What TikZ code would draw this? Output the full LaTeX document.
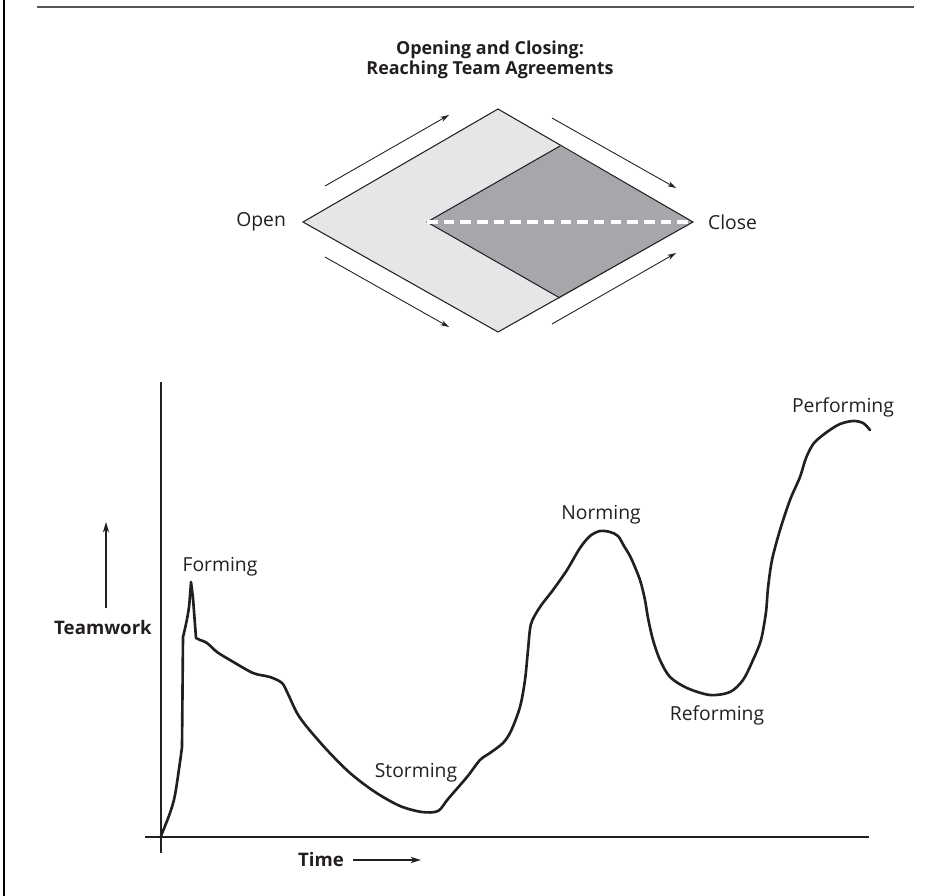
\documentclass[tikz,border=0pt]{standalone}
\usepackage{fontspec}
\setmainfont{Open Sans}
\usetikzlibrary{arrows.meta,positioning}
\usepackage{xcolor}
\definecolor{Ink}{RGB}{35,31,32}
\definecolor{RuleGrey}{RGB}{85,85,85}
\definecolor{PaleGrey}{RGB}{230,230,232}
\definecolor{MidGrey}{RGB}{166,167,170}
\tikzset{
  lbl/.style={font=\fontsize{11}{13}\selectfont,text=Ink,inner sep=1pt},
  blbl/.style={font=\fontsize{10.6}{12}\selectfont\bfseries,text=Ink,inner sep=1pt},
  ttl/.style={font=\fontsize{10.2}{11.5}\selectfont\bfseries,text=Ink,inner sep=1pt,align=center},
  flow/.style={-{Stealth[length=5pt,width=3pt]},Ink,line width=0.5pt},
  axflow/.style={-{Stealth[length=6pt,width=3.6pt]},Ink,line width=0.8pt},
  rim/.style={Ink,line width=0.6pt,line join=miter},
  axis/.style={Ink,line width=0.6pt},
  curve/.style={Ink,line width=1.5pt,line cap=round,line join=round},
}

\begin{document}
\begin{tikzpicture}[x=0.02cm,y=-0.02cm]
  \useasboundingbox (0,0) rectangle (941,896);
  \draw[black,line width=1.1pt] (4,0) -- (4,896);
  \draw[RuleGrey,line width=1.2pt] (37,7) -- (914,7);

  \node[ttl] (title) at (490,60) {Opening and Closing:\\Reaching Team Agreements};

  \coordinate (oL) at (303,222);
  \coordinate (oT) at (498,109);
  \coordinate (oB) at (498,332);
  \coordinate (oR) at (693,222);
  \coordinate (iL) at (427,222);
  \coordinate (iT) at (560,146);
  \coordinate (iB) at (560,298);
  \fill[PaleGrey] (oL) -- (oT) -- (oR) -- (oB) -- cycle;
  \fill[MidGrey] (iL) -- (iT) -- (oR) -- (iB) -- cycle;
  \draw[rim] (iT) -- (iL) -- (iB);
  \draw[rim] (oL) -- (oT) -- (oR) -- (oB) -- cycle;
  \draw[white,line width=2pt,dash pattern=on 6pt off 3.5pt] (iL) -- (oR);

  \coordinate (a1) at (325,186); \coordinate (a2) at (449,115);
  \coordinate (b1) at (552,118); \coordinate (b2) at (676,188);
  \coordinate (c1) at (325,257); \coordinate (c2) at (449,327);
  \coordinate (d1) at (552,324); \coordinate (d2) at (676,253);
  \draw[flow] (a1) -- (a2);
  \draw[flow] (b1) -- (b2);
  \draw[flow] (c1) -- (c2);
  \draw[flow] (d1) -- (d2);

  \node[lbl,left=0.3cm of oL] (open) {Open};
  \node[lbl,right=0.26cm of oR] (close) {Close};

  \coordinate (org) at (161,836);
  \draw[axis] (161,382) -- (161,853);
  \draw[axis] (145,837) -- (869,837);

  \draw[curve] plot[smooth,tension=0.5] coordinates {(161,836) (170,813) (175,795) (180,762) (182,747)}
    -- plot[smooth,tension=0.5] coordinates {(183,637) (186,624) (189,607) (191,582)}
    -- (193,598) -- (196,638)
    -- plot[smooth,tension=0.5] coordinates {(200,640) (207,643) (217,652) (230,660) (253,673) (270,677)
      (282,683) (288,694) (297,713) (307,727) (327,750) (350,773) (375,792) (400,806) (422,812)
      (438,811) (448,799) (467,777) (480,760) (490,753) (503,743) (511,731) (520,707) (525,680)
      (528,650) (531,624) (540,607) (553,590) (567,570) (580,548) (590,536) (600,531) (610,532)
      (618,536) (624,546) (631,558) (640,580) (645,600) (648,618) (653,640) (660,660) (670,677)
      (687,688) (710,695) (730,692) (743,680) (753,660) (761,640) (766,612) (768,588) (772,560)
      (780,530) (790,500) (800,477) (806,458) (814,443) (827,432) (840,424) (853,421) (863,423)
      (870,430)};

  \node[lbl] (forming) at (220,567) {Forming};
  \node[lbl] (storming) at (416,773) {Storming};
  \node[lbl] (norming) at (601,515) {Norming};
  \node[lbl] (reforming) at (717,715) {Reforming};
  \node[lbl] (performing) at (843,407) {Performing};

  \node[blbl] (team) at (103,628) {Teamwork};
  \coordinate (tw0) at (106,608);
  \coordinate (tw1) at (106,522);
  \draw[axflow] (tw0) -- (tw1);

  \node[blbl,anchor=west] (time) at (296,860) {Time};
  \coordinate[right=1.5cm of time.east] (tend);
  \draw[axflow] ([xshift=4pt]time.east) -- (tend);
\end{tikzpicture}
\end{document}
